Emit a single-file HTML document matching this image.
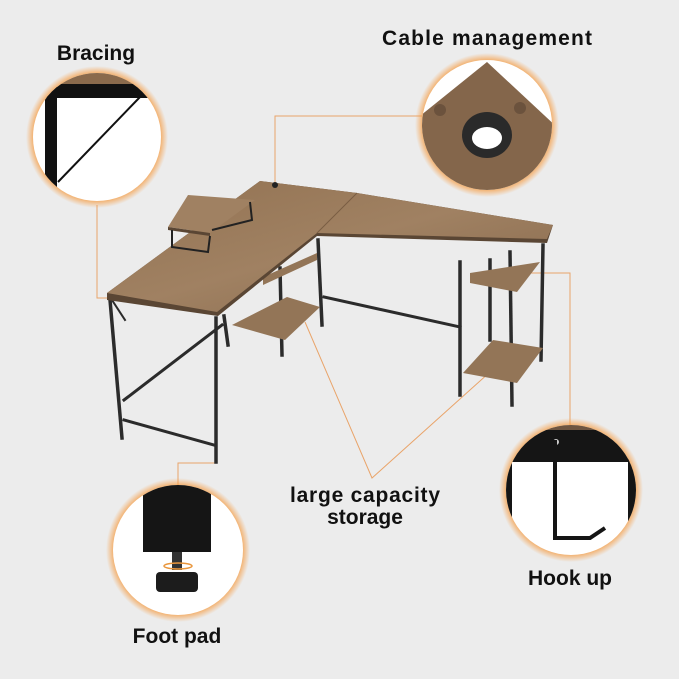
<!DOCTYPE html>
<html><head><meta charset="utf-8"><style>
html,body{margin:0;padding:0;background:#ececec;}
svg{display:block}
text{font-family:"Liberation Sans",sans-serif;font-weight:bold;fill:#111;}
</style></head><body>
<svg width="679" height="679" viewBox="0 0 679 679" xmlns="http://www.w3.org/2000/svg">
<defs>
<radialGradient id="glow" cx="50%" cy="50%" r="50%">
<stop offset="86%" stop-color="#f59a3e" stop-opacity="1"/>
<stop offset="100%" stop-color="#f7a04a" stop-opacity="0"/>
</radialGradient>
<linearGradient id="wood" x1="0" y1="0" x2="1" y2="1">
<stop offset="0" stop-color="#927252"/><stop offset="0.5" stop-color="#a08162"/><stop offset="1" stop-color="#86684c"/>
</linearGradient>
<clipPath id="cB"><circle cx="97" cy="137" r="64"/></clipPath>
<clipPath id="cC"><circle cx="487" cy="125" r="65"/></clipPath>
<clipPath id="cF"><circle cx="178" cy="550" r="65"/></clipPath>
<clipPath id="cH"><circle cx="571" cy="490" r="65"/></clipPath>
</defs>
<rect width="679" height="679" fill="#ececec"/>

<g stroke="#e9a46a" stroke-width="1" fill="none">
<polyline points="107,298 97,298 97,205"/>
<polyline points="275,185 275,116 422,116"/>
<polyline points="530,273 570,273 570,425"/>
<polyline points="216,463 178,463 178,485"/>
<polyline points="305,322 372,478 490,372"/>
</g>

<g stroke="#2b2b2b" stroke-width="3.5" fill="none" stroke-linecap="square">
<line x1="110" y1="300" x2="122" y2="438"/>
<line x1="216" y1="318" x2="216" y2="462"/>
<line x1="224" y1="316" x2="228" y2="345"/>
<line x1="280" y1="268" x2="282" y2="355"/>
<line x1="318" y1="240" x2="322" y2="325"/>
<line x1="460" y1="262" x2="460" y2="395"/>
<line x1="510" y1="252" x2="512" y2="405"/>
<line x1="543" y1="245" x2="541" y2="360"/>
<line x1="490" y1="260" x2="490" y2="340"/>
<line x1="124" y1="420" x2="214" y2="445" stroke-width="3"/>
<line x1="124" y1="400" x2="222" y2="325" stroke-width="3"/>
<line x1="324" y1="297" x2="460" y2="327" stroke-width="3"/>
<line x1="112" y1="300" x2="125" y2="320" stroke-width="2"/>
</g>
<polygon points="232,325 287,297 320,307 285,340" fill="#937557"/>
<polygon points="263,277 317,253 317,260 263,285" fill="#937557"/>
<polygon points="463,373 493,340 543,348 517,383" fill="#937557"/>
<polygon points="470,273 540,262 517,292 470,283" fill="#937557"/>
<polygon points="107,293 260,181 357,193 553,225 547,243 317,236 218,316 107,300" fill="#5a4634"/>
<polygon points="107,293 260,181 357,193 553,225 547,239 317,233 217,312" fill="url(#wood)"/>
<line x1="357" y1="193" x2="317" y2="233" stroke="#7a5d43" stroke-width="1"/>
<circle cx="275" cy="185" r="3" fill="#222"/>
<polygon points="168,227 188,195 255,200 210,233" fill="#a08162"/>
<polygon points="168,227 210,233 210,236 168,230" fill="#5a4634"/>
<g stroke="#222" stroke-width="2" fill="none">
<polyline points="172,230 172,247 208,252 210,236"/>
<polyline points="250,202 252,220 212,230"/>
</g>

<circle cx="97" cy="137" r="71" fill="url(#glow)"/>
<g clip-path="url(#cB)">
<rect x="30" y="70" width="140" height="140" fill="#fff"/>
<rect x="30" y="70" width="140" height="14" fill="#8a6a4c"/>
<rect x="30" y="84" width="140" height="14" fill="#111"/>
<rect x="45" y="84" width="12" height="130" fill="#111"/>
<line x1="58" y1="182" x2="140" y2="97" stroke="#111" stroke-width="2"/>
</g>
<circle cx="487" cy="125" r="72" fill="url(#glow)"/>
<g clip-path="url(#cC)">
<rect x="420" y="58" width="135" height="135" fill="#fff"/>
<polygon points="487,62 560,130 560,200 415,200 415,120" fill="#84664b"/>
<circle cx="440" cy="110" r="6" fill="#5a4534" opacity="0.6"/>
<circle cx="520" cy="108" r="6" fill="#5a4534" opacity="0.6"/>
<ellipse cx="487" cy="135" rx="25" ry="23" fill="#2a2a2a"/>
<ellipse cx="487" cy="138" rx="15" ry="11" fill="#fff"/>
</g>
<circle cx="178" cy="550" r="72" fill="url(#glow)"/>
<g clip-path="url(#cF)">
<rect x="110" y="482" width="140" height="140" fill="#fff"/>
<rect x="143" y="480" width="68" height="72" fill="#151515"/>
<rect x="172" y="552" width="10" height="18" fill="#333"/>
<ellipse cx="178" cy="566" rx="14" ry="3" fill="none" stroke="#e9963c" stroke-width="1.5"/>
<rect x="156" y="572" width="42" height="20" rx="4" fill="#1c1c1c"/>
</g>
<circle cx="571" cy="490" r="72" fill="url(#glow)"/>
<g clip-path="url(#cH)">
<rect x="503" y="422" width="140" height="140" fill="#fff"/>
<rect x="503" y="422" width="140" height="8" fill="#6e5540"/>
<rect x="503" y="430" width="140" height="32" fill="#151515"/>
<rect x="503" y="430" width="9" height="140" fill="#151515"/>
<rect x="628" y="430" width="9" height="140" fill="#151515"/>
<circle cx="556" cy="442" r="3" fill="#ccc"/>
<polyline points="555,440 555,538 590,538 605,528" fill="none" stroke="#151515" stroke-width="4"/>
</g>

<text x="96" y="60" font-size="21" text-anchor="middle">Bracing</text>
<text x="487" y="45" font-size="21" text-anchor="middle" textLength="210">Cable management</text>
<text x="365" y="502" font-size="21" text-anchor="middle" textLength="150">large capacity</text>
<text x="365" y="524" font-size="21" text-anchor="middle">storage</text>
<text x="177" y="643" font-size="21" text-anchor="middle">Foot pad</text>
<text x="570" y="585" font-size="21" text-anchor="middle">Hook up</text>
</svg>
</body></html>
